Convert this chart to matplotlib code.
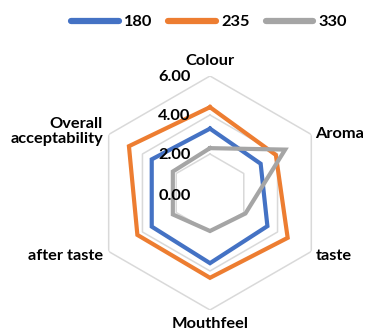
import numpy as np
import matplotlib.pyplot as plt
from matplotlib.lines import Line2D

plt.rcParams['font.family'] = ['Lato', 'DejaVu Sans']
plt.rcParams['font.weight'] = 'bold'

attributes = ['Colour', 'Aroma', 'taste', 'Mouthfeel', 'after taste', 'Overall\nacceptability']
series_names = ['180', '235', '330']
s180 = [3.3, 3.0, 3.4, 3.6, 3.45, 3.45]
s235 = [4.4, 3.9, 4.6, 4.35, 4.3, 4.8]
s330 = [2.3, 4.45, 2.1, 1.95, 2.2, 2.2]
colors = ['#4472C4', '#ED7D31', '#A5A5A5']
rings = [2, 4, 6]
ring_labels = ['0.00', '2.00', '4.00', '6.00']

n = len(attributes)
theta = np.linspace(0, 2 * np.pi, n, endpoint=False)
theta_c = np.append(theta, theta[0])

fig = plt.figure(figsize=(3.66, 3.34), dpi=100)
ax = fig.add_axes([0.2541, 0.0719, 0.6393, 0.7006], projection='polar')
ax.set_theta_offset(np.pi / 2)
ax.set_theta_direction(-1)
ax.set_ylim(0, 6)
ax.grid(False)
ax.spines['polar'].set_visible(False)
ax.set_xticks([])
ax.set_yticks([])
ax.patch.set_alpha(0)

# hexagon gridlines
for r in rings:
    ax.plot(theta_c, [r] * (n + 1), color='#D9D9D9', lw=1.1, zorder=1)

for vals, c in zip([s180, s235, s330], colors):
    v = np.append(vals, vals[0])
    ax.plot(theta_c, v, color=c, lw=3, solid_joinstyle='miter', zorder=3)

# value axis labels
for r, lab in zip([0] + rings, ring_labels):
    ax.annotate(lab, xy=(0, r), xytext=(-14, -1 if r else -2), textcoords='offset points',
                ha='right', va='center', fontsize=11.8, fontweight='bold', zorder=4)

# category labels
offsets = [((0, 6), 'center', 'bottom'),
           ((3, 0), 'left', 'center'),
           ((3, -3), 'left', 'center'),
           ((0, -5), 'center', 'top'),
           ((-4, -3), 'right', 'center'),
           ((-4, 2), 'right', 'center')]
for t, lab, (off, ha, va) in zip(theta, attributes, offsets):
    ax.annotate(lab, xy=(t, 6), xytext=off, textcoords='offset points',
                ha=ha, va=va, fontsize=11.8, fontweight='bold', linespacing=1.05)

handles = [Line2D([], [], color=c, lw=4.5, solid_capstyle='round') for c in colors]
fig.legend(handles, series_names, loc='center', bbox_to_anchor=(209 / 366, 0.934),
           ncol=3, frameon=False, handlelength=2.9, handletextpad=0.3,
           columnspacing=1.0, prop={'size': 11.8, 'weight': 'bold'})

fig.savefig('out.png', dpi=100)
